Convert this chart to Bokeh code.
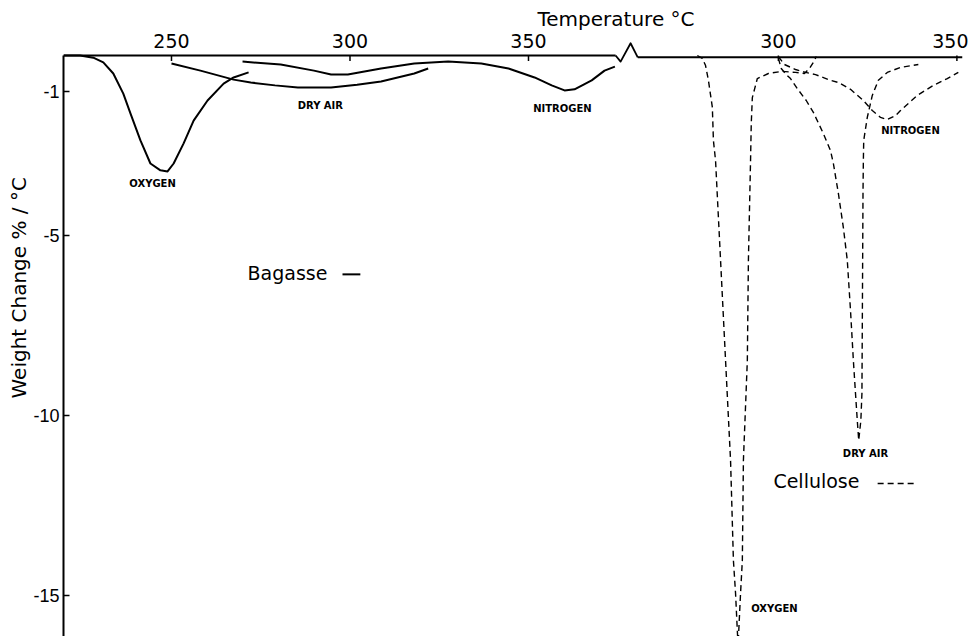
import math
from bokeh.plotting import figure
from bokeh.models import Range1d, FixedTicker, Title, ColumnDataSource
from bokeh.core.properties import value
from bokeh.embed import file_html
from bokeh.resources import INLINE

# ---- Bagasse DTG curves (temperature degC, weight change %/degC) ----
bagasse_oxygen_t = [219.7, 224.4, 228.1, 230.9, 233.7, 236.5, 238.5, 241.3, 244.1,
                    246.9, 248.9, 250.6, 253.4, 256.2, 260.1, 264.6, 267.4, 271.6]
bagasse_oxygen_w = [0.0, 0.0, -0.06, -0.19, -0.5, -1.06, -1.61, -2.36, -3.0,
                    -3.19, -3.22, -3.0, -2.44, -1.81, -1.25, -0.78, -0.61, -0.47]

bagasse_dryair_t = [250.0, 258.1, 267.4, 272.2, 279.0, 285.4, 294.7, 302.0, 308.7, 318.0, 321.9]
bagasse_dryair_w = [-0.22, -0.42, -0.67, -0.75, -0.83, -0.89, -0.89, -0.81, -0.72, -0.5, -0.36]

bagasse_nitrogen_t = [269.9, 280.6, 289.9, 294.7, 299.4, 308.7, 318.0, 327.5, 336.8,
                      344.4, 351.7, 356.5, 360.1, 362.9, 367.7, 371.3, 374.2]
bagasse_nitrogen_w = [-0.17, -0.25, -0.42, -0.53, -0.53, -0.36, -0.22, -0.17, -0.22,
                      -0.36, -0.61, -0.83, -0.97, -0.94, -0.69, -0.42, -0.31]

# ---- Cellulose DTG curves ----
cellulose_oxygen_t = [277.3, 278.7, 279.6, 280.4, 281.5, 281.8, 282.4, 283.8, 285.2, 286.6,
                      287.4, 288.0, 288.7, 289.4, 289.9, 290.2, 291.3, 291.6, 292.2, 292.4,
                      292.7, 294.1, 297.2, 301.1, 304.8, 307.3, 308.7, 310.1, 310.6]
cellulose_oxygen_w = [0.0, -0.08, -0.28, -0.69, -1.44, -2.36, -2.92, -5.69, -8.47, -11.25,
                      -14.03, -14.94, -16.4, -14.94, -14.03, -11.25, -8.47, -5.69, -2.92, -1.89,
                      -1.17, -0.64, -0.5, -0.44, -0.47, -0.5, -0.36, -0.14, -0.03]

cellulose_dryair_t = [300.0, 300.8, 302.2, 303.4, 305.3, 307.8, 309.8, 312.6, 314.6, 315.4,
                      316.8, 318.2, 319.3, 320.2, 321.0, 321.6, 322.1, 322.5, 323.1, 323.4,
                      323.5, 323.6, 323.7, 323.8, 323.9, 324.9, 326.3, 328.0, 330.5, 334.2, 339.2]
cellulose_dryair_w = [-0.08, -0.36, -0.53, -0.64, -0.92, -1.25, -1.58, -2.17, -2.64, -3.0,
                      -3.83, -4.78, -5.69, -7.08, -8.47, -9.39, -10.14, -10.69, -10.14, -9.39,
                      -7.56, -5.69, -3.83, -2.92, -2.36, -1.72, -1.11, -0.69, -0.47, -0.33, -0.25]

cellulose_nitrogen_t = [300.0, 301.7, 304.8, 307.6, 310.4, 314.0, 316.8, 320.2, 323.8,
                        326.3, 328.6, 330.5, 332.8, 334.2, 338.9, 343.4, 347.3, 350.4]
cellulose_nitrogen_w = [-0.03, -0.25, -0.39, -0.47, -0.53, -0.67, -0.75, -0.94, -1.25,
                        -1.53, -1.72, -1.78, -1.67, -1.53, -1.11, -0.83, -0.64, -0.47]

# ---- axis ticks ----
bagasse_temp_ticks = [250, 300, 350]
cellulose_temp_ticks = [300, 350]
weight_ticks = [-1, -5, -10, -15]

# The cellulose temperature scale is drawn to the right of the axis break
CELL_SHIFT = 120.0
X_START, X_END = 219.75, 471.57
BREAK_START, BREAK_END = 374.4, 380.6
Y_BOTTOM = -16.14


def shifted(ts):
    return [t + CELL_SHIFT for t in ts]


FONT = "DejaVu Sans"

# a little head-room above the zero line leaves space for the break mark
p = figure(width=968, height=636,
           x_range=Range1d(X_START, X_END), y_range=Range1d(Y_BOTTOM, 0.3889),
           x_axis_location="above", y_axis_location="left",
           toolbar_location=None, output_backend="svg",
           min_border_left=63, min_border_right=6,
           min_border_top=41, min_border_bottom=0)
p.outline_line_color = None
p.xgrid.visible = False
p.ygrid.visible = False
p.background_fill_color = "white"
p.border_fill_color = "white"

# top temperature axis: labels from the axis, line and ticks drawn on the zero line
xaxis = p.xaxis[0]
tick_pos = bagasse_temp_ticks + shifted(cellulose_temp_ticks)
xaxis.ticker = FixedTicker(ticks=tick_pos)
overrides = {t: str(t) for t in bagasse_temp_ticks}
overrides.update({t + CELL_SHIFT: str(t) for t in cellulose_temp_ticks})
xaxis.major_label_overrides = overrides
xaxis.axis_line_color = None
xaxis.major_tick_line_color = None
xaxis.minor_tick_line_color = None
xaxis.major_tick_in = 0
xaxis.major_tick_out = 0
xaxis.major_label_standoff = -6
xaxis.major_label_text_font = FONT
xaxis.major_label_text_font_size = "19px"
xaxis.major_label_text_color = "black"

p.line([X_START, BREAK_START], [0, 0], line_color="black", line_width=2)
p.line([BREAK_END, X_END], [-0.05, -0.05], line_color="black", line_width=2)
p.segment(x0=tick_pos, y0=[0] * len(tick_pos), x1=tick_pos, y1=[-0.15] * len(tick_pos),
          line_color="black", line_width=1.5)
# zig-zag break mark
p.line([BREAK_START, 375.8, 378.6, BREAK_END], [0.0, -0.17, 0.34, -0.05],
       line_color="black", line_width=1.8, line_join="round")

# left weight-change axis
yaxis = p.yaxis[0]
yaxis.ticker = FixedTicker(ticks=weight_ticks)
yaxis.bounds = (Y_BOTTOM, 0)
yaxis.major_label_overrides = {t: str(t) for t in weight_ticks}
yaxis.major_tick_in = 6
yaxis.major_tick_out = 0
yaxis.minor_tick_line_color = None
yaxis.axis_line_width = 2
yaxis.major_tick_line_width = 1.5
yaxis.major_label_standoff = 4
yaxis.major_label_text_font = "Liberation Sans"
yaxis.major_label_text_font_size = "18px"
yaxis.major_label_text_color = "black"

# bagasse: solid lines
for ts, ws in [(bagasse_oxygen_t, bagasse_oxygen_w),
               (bagasse_dryair_t, bagasse_dryair_w),
               (bagasse_nitrogen_t, bagasse_nitrogen_w)]:
    p.line(ts, ws, line_color="black", line_width=2, line_join="round")

# cellulose: dashed lines on the shifted scale
for ts, ws in [(cellulose_oxygen_t, cellulose_oxygen_w),
               (cellulose_dryair_t, cellulose_dryair_w),
               (cellulose_nitrogen_t, cellulose_nitrogen_w)]:
    p.line(shifted(ts), ws, line_color="black", line_width=1.4, line_dash="6 4")

# curve labels
curve_labels = ColumnDataSource(dict(
    x=[244.7, 291.7, 359.5, 337.0 + CELL_SHIFT, 324.4 + CELL_SHIFT, 298.9 + CELL_SHIFT],
    y=[-3.56, -1.39, -1.47, -2.08, -11.06, -15.36],
    text=["OXYGEN", "DRY AIR", "NITROGEN", "NITROGEN", "DRY AIR", "OXYGEN"],
))
p.text(x="x", y="y", text="text", source=curve_labels,
       text_font=value(FONT), text_font_style="bold", text_font_size="10px",
       text_align="center", text_baseline="middle", text_color="black")

# key: material names with their line styles
p.text(x=[271.3, 298.6 + CELL_SHIFT], y=[-6.03, -11.83], text=["Bagasse", "Cellulose"],
       text_font=value(FONT), text_font_size="19px",
       text_align="left", text_baseline="middle", text_color="black")
p.line([297.9, 302.9], [-6.08, -6.08], line_color="black", line_width=2)
p.line([327.8 + CELL_SHIFT, 338.4 + CELL_SHIFT], [-11.89, -11.89],
       line_color="black", line_width=1.4, line_dash="6 4")

# axis titles
p.add_layout(Title(text="Temperature °C", align="left", offset=474, standoff=0,
                   text_font=FONT, text_font_size="20px", text_font_style="normal",
                   text_color="black"), "above")
p.add_layout(Title(text="Weight  Change % / °C", align="left", offset=238, standoff=0,
                   text_font=FONT, text_font_size="20px", text_font_style="normal",
                   text_color="black"), "left")

open("out.html", "w").write(file_html(p, INLINE))
